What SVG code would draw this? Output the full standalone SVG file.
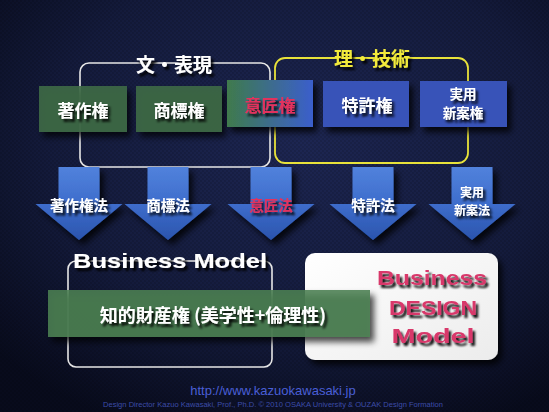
<svg xmlns="http://www.w3.org/2000/svg" xmlns:xlink="http://www.w3.org/1999/xlink" width="549" height="412" viewBox="0 0 549 412">
<defs>
  <radialGradient id="bg" cx="0.55" cy="0.35" r="0.75">
    <stop offset="0" stop-color="#1d2652"/>
    <stop offset="0.6" stop-color="#141b3c"/>
    <stop offset="1" stop-color="#080b1c"/>
  </radialGradient>
  <pattern id="hex" width="4" height="4" patternUnits="userSpaceOnUse">
    <circle cx="1" cy="1" r="0.8" fill="#000" fill-opacity="0.25"/>
    <circle cx="3" cy="3" r="0.8" fill="#000" fill-opacity="0.25"/>
  </pattern>
  <linearGradient id="arrG" x1="0" y1="0" x2="0" y2="1">
    <stop offset="0" stop-color="#5182dc"/>
    <stop offset="0.5" stop-color="#3e6dcc"/>
    <stop offset="1" stop-color="#2a54ad"/>
  </linearGradient>
  <linearGradient id="designG" x1="0" y1="0" x2="1" y2="0">
    <stop offset="0" stop-color="#3f7a4c"/>
    <stop offset="1" stop-color="#3a5fcc"/>
  </linearGradient>
  <linearGradient id="whiteG" x1="0" y1="0" x2="1" y2="1">
    <stop offset="0" stop-color="#ffffff"/>
    <stop offset="1" stop-color="#ececec"/>
  </linearGradient>
  <filter id="ts" x="-20%" y="-30%" width="150%" height="170%">
    <feDropShadow dx="2.5" dy="3" stdDeviation="1.2" flood-color="#000" flood-opacity="0.95"/>
  </filter>
  <filter id="bs" x="-20%" y="-20%" width="150%" height="160%">
    <feDropShadow dx="4" dy="5" stdDeviation="3" flood-color="#000" flood-opacity="0.8"/>
  </filter>
  <path id="arr" d="M-20.5,167 h41 v37 h23 L0,240 L-43.5,204 h23 z"/>
  <style>
    .jp{font-family:"Noto Sans CJK JP","Noto Sans CJK SC",sans-serif;font-weight:bold;text-anchor:middle}
    .w{fill:#ffffff}
    .red{fill:#e2325d}
    .pink{fill:#d8386b}
    .green{fill:#3d6a46;fill-opacity:0.9}
    .blue{fill:#3853b8}
    .lat{font-family:"Liberation Sans",Arial,sans-serif;font-weight:bold;text-anchor:middle}
  </style>
</defs>

<rect x="0" y="0" width="549" height="412" fill="url(#bg)"/>
<rect x="0" y="0" width="549" height="412" fill="url(#hex)"/>

<!-- group frames -->
<g id="group-bun" fill="none">
  <rect x="80" y="63" width="190" height="104" rx="9" stroke="#e6e6e6" stroke-width="1.6"/>
  <text x="174" y="72" class="jp w" font-size="19" filter="url(#ts)">文・表現</text>
</g>
<g id="group-ri" fill="none">
  <rect x="275" y="58" width="193" height="105" rx="10" stroke="#e8e23a" stroke-width="1.8"/>
  <text x="372" y="66" class="jp" font-size="19" fill="#f2ea3a" filter="url(#ts)">理・技術</text>
</g>

<!-- connectors: block arrows -->
<g id="connectors">
  <g id="arrow-chosakukenho">
    <use xlink:href="#arr" href="#arr" x="79" fill="url(#arrG)" filter="url(#bs)"/>
    <text x="79" y="211" class="jp w" font-size="14.5" filter="url(#ts)">著作権法</text>
  </g>
  <g id="arrow-shohyoho">
    <use xlink:href="#arr" href="#arr" x="168" fill="url(#arrG)" filter="url(#bs)"/>
    <text x="168" y="211" class="jp w" font-size="14.5" filter="url(#ts)">商標法</text>
  </g>
  <g id="arrow-ishoho">
    <use xlink:href="#arr" href="#arr" x="271" fill="url(#arrG)" filter="url(#bs)"/>
    <text x="271" y="211" class="jp red" font-size="14.5" filter="url(#ts)">意匠法</text>
  </g>
  <g id="arrow-tokkyoho">
    <use xlink:href="#arr" href="#arr" x="373" fill="url(#arrG)" filter="url(#bs)"/>
    <text x="373" y="211" class="jp w" font-size="14.5" filter="url(#ts)">特許法</text>
  </g>
  <g id="arrow-jitsuyoho">
    <use xlink:href="#arr" href="#arr" x="472" fill="url(#arrG)" filter="url(#bs)"/>
    <text x="472" y="196.5" class="jp w" font-size="12" filter="url(#ts)">実用</text>
    <text x="472" y="214.5" class="jp w" font-size="12" filter="url(#ts)">新案法</text>
  </g>
</g>

<!-- boxes -->
<g id="node-chosakuken">
  <rect x="39" y="86" width="88" height="46" class="green" filter="url(#bs)"/>
  <text x="83" y="117" class="jp w" font-size="17" filter="url(#ts)">著作権</text>
</g>
<g id="node-shohyoken">
  <rect x="136" y="86" width="86" height="46" class="green" filter="url(#bs)"/>
  <text x="179" y="117" class="jp w" font-size="17" filter="url(#ts)">商標権</text>
</g>
<g id="node-ishoken">
  <rect x="227" y="80" width="86" height="47" fill="url(#designG)" filter="url(#bs)"/>
  <text x="270" y="112" class="jp red" font-size="17" filter="url(#ts)">意匠権</text>
</g>
<g id="node-tokkyoken">
  <rect x="323" y="81" width="86" height="46" class="blue" filter="url(#bs)"/>
  <text x="367" y="112" class="jp w" font-size="17" filter="url(#ts)">特許権</text>
</g>
<g id="node-jitsuyoken">
  <rect x="420" y="81" width="87" height="46" class="blue" filter="url(#bs)"/>
  <text x="463" y="99" class="jp w" font-size="13.5" filter="url(#ts)">実用</text>
  <text x="463" y="118" class="jp w" font-size="13.5" filter="url(#ts)">新案権</text>
</g>

<!-- Business Model -->
<g id="node-business-model" fill="none">
  <rect x="68" y="261" width="204" height="106" rx="8" stroke="#e6e6e6" stroke-width="1.6"/>
  <text x="170" y="268" class="lat w" font-size="21" textLength="194" lengthAdjust="spacingAndGlyphs" filter="url(#ts)">Business Model</text>
</g>

<g id="node-business-design-model">
  <rect x="305" y="253" width="193" height="107" rx="10" fill="url(#whiteG)" filter="url(#bs)"/>
  <text x="432" y="285" class="lat pink" font-size="21" textLength="110" lengthAdjust="spacingAndGlyphs" filter="url(#ts)">Business</text>
  <text x="433" y="315" class="lat pink" font-size="21" textLength="88" lengthAdjust="spacingAndGlyphs" filter="url(#ts)">DESIGN</text>
  <text x="433" y="343" class="lat pink" font-size="21" textLength="83" lengthAdjust="spacingAndGlyphs" filter="url(#ts)">Model</text>
</g>

<g id="node-chitekizaisan">
  <rect x="48" y="290" width="322" height="47" fill="#4b7f52" fill-opacity="0.88" filter="url(#bs)"/>
  <text x="213" y="322" class="jp w" font-size="18" filter="url(#ts)">知的財産権 (美学性+倫理性)</text>
</g>

<!-- footer -->
<g id="footer">
  <text x="273" y="395" font-family="Liberation Sans, Arial, sans-serif" font-size="13" fill="#4a5fd6" text-anchor="middle">http://www.kazuokawasaki.jp</text>
  <text x="273" y="407" font-family="Liberation Sans, Arial, sans-serif" font-size="7.4" fill="#3c4ca8" text-anchor="middle" textLength="340" lengthAdjust="spacingAndGlyphs">Design Director Kazuo Kawasaki, Prof., Ph.D. © 2010 OSAKA University &amp; OUZAK Design Formation</text>
</g>
</svg>
